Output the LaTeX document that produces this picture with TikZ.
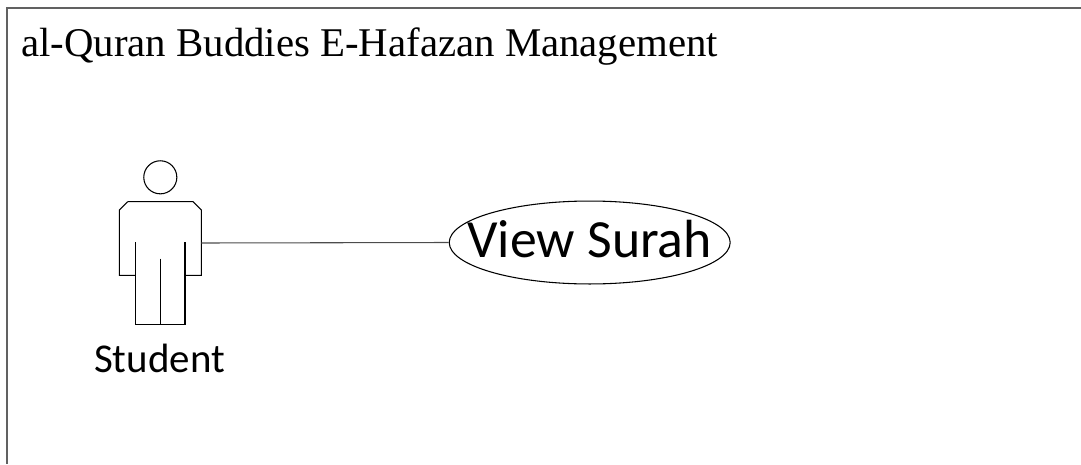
\documentclass[tikz,border=0pt]{standalone}
\usepackage{fontspec}
\usepackage{tikz}
\usetikzlibrary{shapes.geometric}
\setmainfont{Liberation Serif}
\newfontfamily\labelfont{Carlito}
\tikzset{
  frameline/.style={draw=black!62, line width=1.2pt},
  actorline/.style={draw=black, line width=0.8pt},
  linkline/.style={draw=black!70, line width=0.8pt},
  usecase/.style={ellipse, draw=black, line width=0.8pt, inner sep=0pt, minimum width=210.7pt, minimum height=62.2pt}
}
\begin{document}
\begin{tikzpicture}[x=0.75pt, y=-0.75pt]
\useasboundingbox (0, 0) rectangle (1081, 464);
% frame
\coordinate (FA) at (1081, 8);
\coordinate (FB) at (7, 8);
\coordinate (FC) at (7, 464);
\draw[frameline] (FA) -- (FB) -- (FC);
\node (title) [anchor=base west, inner sep=0pt, font=\fontsize{30.6}{30.6}\selectfont] at (21, 56) {al-Quran Buddies E-Hafazan Management};
% actor
\coordinate (A) at (127.7, 201.7);
\coordinate (B) at (193, 201.7);
\coordinate (C) at (201.3, 210);
\coordinate (D) at (201.3, 275.3);
\coordinate (E) at (185, 275.3);
\coordinate (F) at (185, 242.3);
\coordinate (G) at (185, 324.3);
\coordinate (H) at (135.7, 324.3);
\coordinate (I) at (135.7, 242.3);
\coordinate (J) at (135.7, 275.3);
\coordinate (K) at (119.3, 275.3);
\coordinate (L) at (119.3, 210);
\coordinate (M) at (160.3, 258.7);
\coordinate (N) at (160.3, 324.3);
\coordinate (hand) at (201.3, 243);
\draw[actorline] (160.3, 177.3) circle [radius=12.4pt];
\draw[actorline] (A) -- (B) -- (C) -- (D) -- (E);
\draw[actorline] (F) -- (G) -- (H) -- (I);
\draw[actorline] (J) -- (K) -- (L) -- (A);
\draw[actorline] (M) -- (N);
\node (student) [anchor=base, inner sep=0pt, font=\labelfont\fontsize{30.7}{30.7}\selectfont] at (159.5, 372) {Student};
% use case
\node (viewsurah) [usecase, font=\labelfont\fontsize{40.3}{40.3}\selectfont] at (589.7, 242.5) {\makebox[0pt]{\raisebox{-10.9pt}[0pt][0pt]{View Surah}}};
\draw[linkline] (hand) -- (viewsurah.west);
\end{tikzpicture}
\end{document}
